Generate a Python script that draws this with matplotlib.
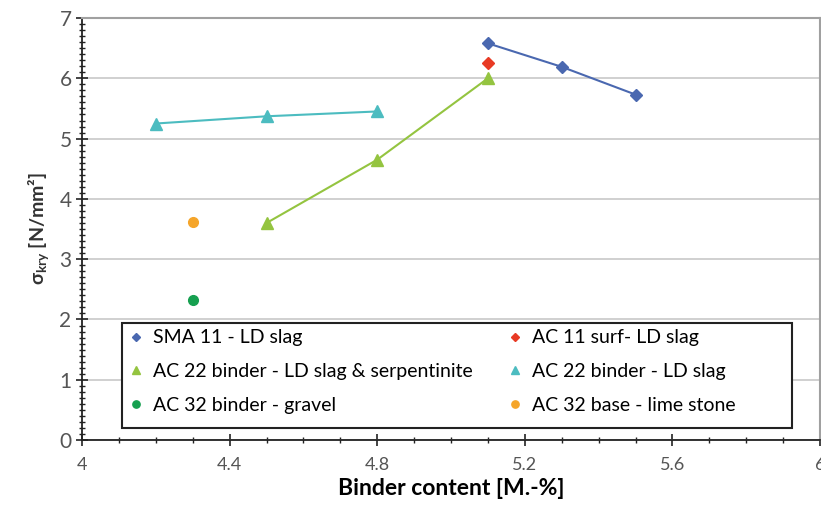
import matplotlib.pyplot as plt
from matplotlib.patches import Rectangle
from matplotlib.ticker import MultipleLocator

plt.rcParams['font.family'] = ['Lato', 'DejaVu Sans']

# binder content [M.-%] and strength values per mix
sma11_x = [5.1, 5.3, 5.5]
sma11_y = [6.58, 6.19, 5.73]

ac11_x = [5.1]
ac11_y = [6.26]

ac22_serp_x = [4.5, 4.8, 5.1]
ac22_serp_y = [3.6, 4.65, 6.0]

ac22_ld_x = [4.2, 4.5, 4.8]
ac22_ld_y = [5.25, 5.37, 5.45]

ac32_gravel_x = [4.3]
ac32_gravel_y = [2.33]

ac32_lime_x = [4.3]
ac32_lime_y = [3.62]

x_ticks = [4, 4.4, 4.8, 5.2, 5.6, 6]
x_tick_labels = ['4', '4.4', '4.8', '5.2', '5.6', '6']

fig = plt.figure(figsize=(8.21, 5.07), dpi=100)
ax = fig.add_axes([0.0999, 0.132, 0.8989, 0.8325])

h_sma, = ax.plot(sma11_x, sma11_y, color='#4a68b0', marker='D', ms=6, lw=1.5,
                 label='SMA 11 - LD slag')
h_ac11, = ax.plot(ac11_x, ac11_y, color='#e83a24', marker='D', ms=6, lw=0,
                  label='AC 11 surf- LD slag')
h_serp, = ax.plot(ac22_serp_x, ac22_serp_y, color='#94c440', marker='^', ms=8, lw=1.5,
                  label='AC 22 binder - LD slag & serpentinite')
h_ld, = ax.plot(ac22_ld_x, ac22_ld_y, color='#4cbcc0', marker='^', ms=8, lw=1.5,
                label='AC 22 binder - LD slag')
h_grav, = ax.plot(ac32_gravel_x, ac32_gravel_y, color='#16a050', marker='o', ms=7, lw=0,
                  label='AC 32 binder - gravel')
h_lime, = ax.plot(ac32_lime_x, ac32_lime_y, color='#f5a52a', marker='o', ms=7, lw=0,
                  label='AC 32 base - lime stone')

ax.set_xlim(4, 6)
ax.set_ylim(0, 7)
ax.set_xticks(x_ticks)
ax.set_xticklabels(x_tick_labels)
ax.xaxis.set_minor_locator(MultipleLocator(0.1))
ax.yaxis.set_major_locator(MultipleLocator(1))
ax.yaxis.set_minor_locator(MultipleLocator(0.1))

ax.grid(axis='y', color='#c8c8c8', lw=1.2)
ax.set_axisbelow(True)

for side in ['top', 'right']:
    ax.spines[side].set_color('#a0a0a0')
    ax.spines[side].set_linewidth(1.5)
for side in ['left', 'bottom']:
    ax.spines[side].set_color('#222222')
    ax.spines[side].set_linewidth(1.3)

ax.tick_params(axis='both', which='both', direction='inout', color='#222222')
ax.tick_params(axis='x', which='major', length=8, width=1.2, labelsize=13,
               labelcolor='#555555', pad=8)
ax.tick_params(axis='x', which='minor', length=5, width=1)
ax.tick_params(axis='y', which='major', length=8, width=1.2, labelsize=15,
               labelcolor='#555555')
ax.tick_params(axis='y', which='minor', length=5, width=1)

ax.set_xlabel('Binder content [M.-%]', fontsize=16.5, fontweight='bold', labelpad=4)
ax.set_ylabel(r'$\mathregular{\sigma_{kry}}$ [N/mm²]', fontsize=14, fontweight='bold',
              color='#333333', labelpad=6)

# legend filled row by row, box drawn separately
handles = [h_sma, h_serp, h_grav, h_ac11, h_ld, h_lime]
leg = ax.legend(handles=handles, labels=[h.get_label() for h in handles],
                ncol=2, loc='upper left', bbox_to_anchor=(0.062, 0.262),
                fontsize=14, frameon=False, handlelength=0.8, handletextpad=0.5,
                borderaxespad=0, borderpad=0, labelspacing=0.85,
                columnspacing=1.75, markerscale=0.75)
for line in leg.get_lines():
    line.set_linestyle('none')

ax.add_patch(Rectangle((0.054, 0.028), 0.908, 0.249, transform=ax.transAxes,
                       facecolor='white', edgecolor='#222222', lw=1.5, zorder=4))
leg.set_zorder(5)

fig.savefig('out.png', dpi=100)
